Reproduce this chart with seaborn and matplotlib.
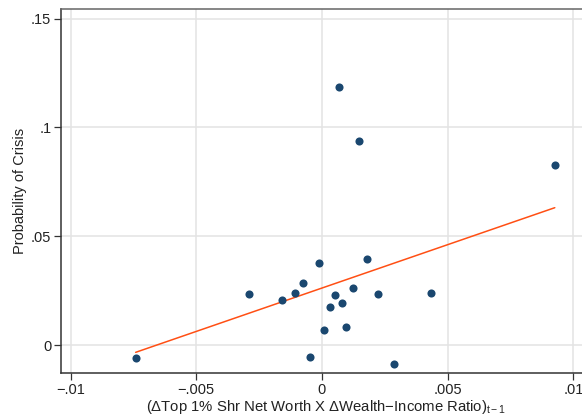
import matplotlib
matplotlib.use("Agg")
import matplotlib.pyplot as plt
import seaborn as sns
import numpy as np
import pandas as pd

# Data
x_vals = [-0.00741, -0.00292, -0.00159, -0.00107, -0.00077, -0.00013, -0.00047,
          0.00052, 0.00032, 0.00081, 0.00009, 0.00097, 0.00123, 0.00179,
          0.00223, 0.00432, 0.00285, 0.00066, 0.00146, 0.00926]
y_vals = [-0.0061, 0.0233, 0.0209, 0.0240, 0.0285, 0.0377, -0.0055,
          0.0230, 0.0173, 0.0192, 0.0069, 0.0084, 0.0261, 0.0394,
          0.0233, 0.0239, -0.0087, 0.1184, 0.0938, 0.0826]
# Linear fit shown in the reference (estimated from underlying data)
fit_intercept = 0.02618
fit_slope = 3.987
x_ticks = [-0.01, -0.005, 0, 0.005, 0.01]
x_tick_labels = ["\u2212.01", "\u2212.005", "0", ".005", ".01"]
y_ticks = [0, 0.05, 0.1, 0.15]
y_tick_labels = ["0", ".05", ".1", ".15"]

df = pd.DataFrame({"x": x_vals, "y": y_vals})
fit_x = [min(x_vals), max(x_vals)]
fit_df = pd.DataFrame({"x": fit_x, "y": [fit_intercept + fit_slope * v for v in fit_x]})

sns.set_theme(style="white")
plt.rcParams["font.family"] = ["Liberation Sans", "DejaVu Sans"]
plt.rcParams["mathtext.fontset"] = "custom"
plt.rcParams["mathtext.rm"] = "Liberation Sans"
plt.rcParams["mathtext.it"] = "Liberation Sans:italic"

W, H = 582, 415
fig = plt.figure(figsize=(W / 100, H / 100), dpi=100)
left_px, right_px, top_px, bot_px = 61, 592, 9, 373.3
ax = fig.add_axes([left_px / W, (H - bot_px) / H, (right_px - left_px) / W, (bot_px - top_px) / H])

sns.lineplot(data=fit_df, x="x", y="y", ax=ax, color="#ff4f14", lw=1.1, zorder=2)
sns.scatterplot(data=df, x="x", y="y", ax=ax, color="#1a476f", s=34,
                linewidth=0, zorder=3)

ax.set_xlim(-0.01038, 0.01074)
ax.set_ylim(-0.0130, 0.15441)
ax.set_xticks(x_ticks)
ax.set_xticklabels(x_tick_labels)
ax.set_yticks(y_ticks)
ax.set_yticklabels(y_tick_labels)

ax.grid(True, color="#e3e3e3", lw=1.1, zorder=0)
ax.set_axisbelow(True)
for side in ["left", "bottom", "top"]:
    ax.spines[side].set_visible(True)
    ax.spines[side].set_color("#333333")
    ax.spines[side].set_linewidth(1.1)
ax.spines["top"].set_color("#666666")
ax.spines["right"].set_visible(False)

ax.tick_params(axis="both", direction="out", length=5, width=0.9, color="#333333",
               labelsize=10.5, labelcolor="#222222", pad=2,
               bottom=True, left=True)

ax.set_xlabel("(\u0394Top 1% Shr Net Worth X \u0394Wealth\u2212Income Ratio)$_{\\mathrm{t\u22121}}$",
              fontsize=10.7, color="#222222", labelpad=1)
ax.set_ylabel("Probability of Crisis", fontsize=10.5, color="#222222", labelpad=3)

fig.savefig("out.png", dpi=100)
